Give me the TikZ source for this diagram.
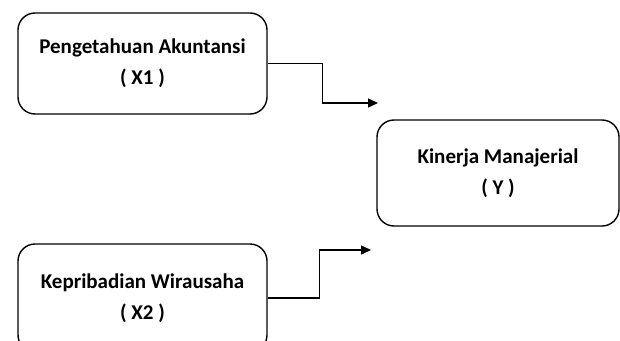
\documentclass[tikz,border=0pt]{standalone}
\usepackage{fontspec}
\setmainfont{Carlito}
\usetikzlibrary{arrows.meta,positioning}

\tikzset{
  varbox/.style={draw,rounded corners=17pt,line width=1.4pt,align=center,
    font=\fontsize{21}{31}\selectfont\bfseries,inner sep=0pt},
  link/.style={-{Triangle[length=10pt,width=9pt]},line width=1.4pt}
}

\begin{document}
\begin{tikzpicture}[x=1pt,y=-1pt]
  \useasboundingbox (0,0) rectangle (620,340);
  % variabel bebas dan terikat
  \node[varbox,minimum width=249pt,minimum height=101pt] (x1) at (142.5,63.5)
    {Pengetahuan Akuntansi\\( X1 )};
  \node[varbox,minimum width=242pt,minimum height=106pt] (y) at (498,173)
    {Kinerja Manajerial\\( Y )};
  \node[varbox,minimum width=249pt,minimum height=108pt] (x2) at (142.5,298)
    {Kepribadian Wirausaha\\( X2 )};
  \coordinate (t1) at (378,103);
  \coordinate (t2) at (371,250);
  % panah
  \draw[link] (x1.east) -- ++(55,0) |- (t1);
  \draw[link] (x2.east) -- ++(52,0) |- (t2);
\end{tikzpicture}
\end{document}
